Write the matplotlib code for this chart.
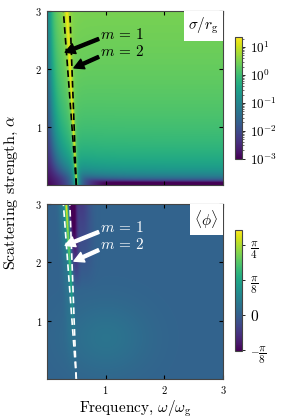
import numpy as np
import matplotlib
matplotlib.use("Agg")
import matplotlib.pyplot as plt
from matplotlib.colors import LogNorm, Normalize
from matplotlib.offsetbox import AnchoredText

plt.rcParams['font.family'] = 'serif'
plt.rcParams['font.serif'] = ['cmr10']
plt.rcParams['mathtext.fontset'] = 'cm'
plt.rcParams['axes.formatter.use_mathtext'] = True

# ---- data ----
alpha_line = [0.0, 3.0]
omega_m1 = [0.50, 0.28]
omega_m2 = [0.50, 0.39]
line_labels = [r'$m\, =\, 1$', r'$m\, =\, 2$']
arrow_tips = [(0.31, 2.29), (0.46, 2.02)]
text_pos = [(0.90, 2.60), (0.90, 2.30)]
arrow_tails = [(0.88, 2.52), (0.88, 2.21)]

xticks = [1, 2, 3]
yticks = [1, 2, 3]
sigma_lim = (1e-3, 23.0)
phi_lim = (-0.40, 0.955)
phi_ticks = [-np.pi / 8, 0, np.pi / 8, np.pi / 4]
phi_ticklabels = [r'$-\dfrac{\pi}{8}$', r'$0$', r'$\dfrac{\pi}{8}$', r'$\dfrac{\pi}{4}$']

# ---- field model (shape) ----
om = np.linspace(0.0, 3.0, 700)
al = np.linspace(0.0, 3.0, 700)
W, A = np.meshgrid(om, al)
Ap = np.maximum(A, 1e-3)
la = np.log10(Ap)

bg = 10 ** (0.05 + 1.0 * la - 0.25 * la ** 2)
small_a = (Ap ** 2 / (Ap ** 2 + 0.10 ** 2)) ** 1.6
w0 = 0.26 * Ap ** -0.55
r = 0.17 * Ap ** 0.42
small_w = (W ** 3 + (r * w0) ** 3) / (W ** 3 + w0 ** 3)
wr = 0.5 - 0.055 * A
gam = 0.004 + 0.006 * A
peak = 16.0 * gam ** 2 / ((W - wr) ** 2 + gam ** 2)
sigma = bg * small_a * small_w + peak
sigma = np.clip(sigma, 1e-4, None)

w1 = 0.5 - 0.058 * A
amp_pos = 0.9 * np.clip((A - 0.7) / 2.3, 0, None)
amp_neg = 0.55 * np.clip((A - 1.5) / 1.5, 0, None)
phi = (0.03
       + 0.09 * np.exp(-((W - 1.0) / 0.7) ** 2 - ((A - 0.7) / 0.6) ** 2)
       + amp_pos * np.exp(-((W - w1) / 0.028) ** 2)
       + 0.15 * (A / 3) * np.exp(-((W - w1 + 0.06) / 0.07) ** 2)
       - amp_neg * np.exp(-((W - w1 - 0.10) / 0.06) ** 2)
       - 0.2 * np.clip((A - 1.5) / 1.5, 0, None) * np.exp(-((W - w1 - 0.25) / 0.15) ** 2))

fig = plt.figure(figsize=(2.99, 4.20), dpi=100)
ax1 = fig.add_axes([0.157, 0.5595, 0.589, 0.414])
ax2 = fig.add_axes([0.157, 0.0976, 0.589, 0.4167])
cax1 = fig.add_axes([0.786, 0.622, 0.0234, 0.29])
cax2 = fig.add_axes([0.786, 0.164, 0.0234, 0.288])

im1 = ax1.imshow(sigma, origin='lower', extent=[0, 3, 0, 3], aspect='auto',
                 cmap='viridis', norm=LogNorm(*sigma_lim), interpolation='bilinear')
im2 = ax2.imshow(phi, origin='lower', extent=[0, 3, 0, 3], aspect='auto',
                 cmap='viridis', norm=Normalize(*phi_lim), interpolation='bilinear')

for ax, col in [(ax1, 'black'), (ax2, 'white')]:
    ax.plot(omega_m1, alpha_line, ls='--', color=col, lw=1.2, dashes=(4, 2.5))
    ax.plot(omega_m2, alpha_line, ls='--', color=col, lw=1.2, dashes=(4, 2.5))
    for lab, tip, tp, tl in zip(line_labels, arrow_tips, text_pos, arrow_tails):
        ax.text(tp[0], tp[1], lab, color=col, fontsize=11, va='center', ha='left')
        ax.annotate('', xy=tip, xytext=tl,
                    arrowprops=dict(facecolor=col, edgecolor=col, width=2.2,
                                    headwidth=7.5, headlength=7, shrink=0))
    ax.set_xlim(0, 3)
    ax.set_ylim(0, 3)
    ax.set_xticks(xticks)
    ax.set_yticks(yticks)
    ax.tick_params(direction='in', top=True, right=True, labelsize=7.5, length=3)
    for s in ax.spines.values():
        s.set_color('#444444')

ax1.tick_params(labelbottom=False)
ax2.set_xlabel(r'Frequency, $\omega/\omega_{\rm g}$', fontsize=11, labelpad=2)
fig.text(0.04, 0.543, r'Scattering strength, $\alpha$', rotation=90,
         va='center', ha='center', fontsize=11.5)

for ax, txt in [(ax1, r'$\sigma/r_{\rm g}$'), (ax2, r'$\langle\phi\rangle$')]:
    at = AnchoredText(txt, loc='upper right', frameon=True, borderpad=0,
                      pad=0.3, prop=dict(size=11))
    at.patch.set_edgecolor('none')
    at.patch.set_facecolor('white')
    ax.add_artist(at)

cb1 = fig.colorbar(im1, cax=cax1)
cb1.ax.tick_params(labelsize=9.5, length=2.5, width=0.6, which='major')
cb1.ax.tick_params(which='minor', length=1.5, width=0.4)
cb2 = fig.colorbar(im2, cax=cax2, ticks=phi_ticks)
cb2.ax.set_yticklabels(phi_ticklabels)
cb2.ax.tick_params(labelsize=8, length=2.5, width=0.6)
cb2.ax.get_yticklabels()[1].set_fontsize(11)
for cb in (cb1, cb2):
    cb.outline.set_edgecolor('#444444')

fig.savefig('out.png', dpi=100)
